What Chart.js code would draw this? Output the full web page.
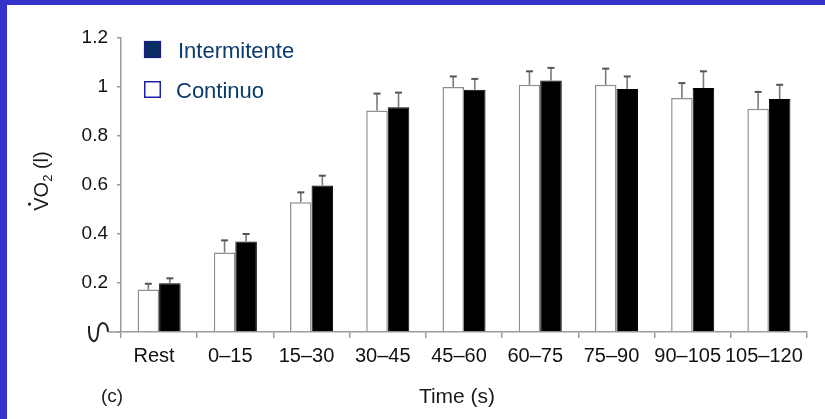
<!DOCTYPE html>
<html>
<head>
<meta charset="utf-8">
<script src="https://cdn.jsdelivr.net/npm/chart.js@4.4.1/dist/chart.umd.min.js"></script>
<style>
    html, body { margin: 0; padding: 0; background: #fff; }
    #wrap { position: relative; width: 825px; height: 419px; overflow: hidden; background: #fff; }
    #wrap canvas { position: absolute; left: 0; top: 0; }
    .edge { position: absolute; background: #3333cc; }
</style>
</head>
<body>
<div id="wrap">
    <canvas id="chart-vo2" width="825" height="419"></canvas>
    <div class="edge" style="left:0;top:0;width:7px;height:419px;"></div>
    <div class="edge" style="left:0;top:0;width:825px;height:5px;"></div>
</div>
<script>
// Time windows (s)
const categories = ['Rest', '0–15', '15–30', '30–45', '45–60', '60–75', '75–90', '90–105', '105–120'];

// VO2 (l)
const continuo = [0.173, 0.324, 0.53, 0.904, 1.0, 1.009, 1.009, 0.955, 0.911];
const continuoErr = [0.024, 0.05, 0.04, 0.069, 0.043, 0.055, 0.066, 0.061, 0.069];
const intermitente = [0.199, 0.369, 0.598, 0.917, 0.989, 1.027, 0.992, 0.996, 0.951];
const intermitenteErr = [0.02, 0.031, 0.04, 0.06, 0.044, 0.051, 0.051, 0.068, 0.058];

const yTicks = [0, 0.2, 0.4, 0.6, 0.8, 1, 1.2];

const FONT = "'Liberation Sans', Arial, sans-serif";
const AXIS_GRAY = '#9a9a9a';

// upward error bars on top of each bar
const errorBars = {
    id: 'errorBars',
    afterDatasetsDraw(chart) {
        const ctx = chart.ctx;
        const y = chart.scales.y;
        chart.data.datasets.forEach((ds, i) => {
            const meta = chart.getDatasetMeta(i);
            meta.data.forEach((bar, idx) => {
                const top = y.getPixelForValue(ds.data[idx] + ds.errors[idx]);
                ctx.save();
                ctx.strokeStyle = '#7a7a7a';
                ctx.lineWidth = 1.6;
                ctx.beginPath();
                ctx.moveTo(bar.x, bar.y);
                ctx.lineTo(bar.x, top);
                ctx.stroke();
                ctx.strokeStyle = '#555';
                ctx.lineWidth = 2;
                ctx.beginPath();
                ctx.moveTo(bar.x - 3.5, top);
                ctx.lineTo(bar.x + 3.5, top);
                ctx.stroke();
                ctx.restore();
            });
        });
    }
};

// legend, axis titles, axis break
const decorations = {
    id: 'decorations',
    afterDraw(chart) {
        const ctx = chart.ctx;
        const area = chart.chartArea;
        ctx.save();

        // legend
        ctx.fillStyle = '#0a2f63';
        ctx.fillRect(144, 41, 17, 17);
        ctx.strokeStyle = '#1a1a8a';
        ctx.lineWidth = 1.2;
        ctx.strokeRect(144.5, 41.5, 16, 16);
        ctx.fillStyle = '#fff';
        ctx.fillRect(144, 81, 17, 17);
        ctx.strokeStyle = '#1e1ea8';
        ctx.lineWidth = 1.5;
        ctx.strokeRect(144.75, 81.75, 15.5, 15.5);

        ctx.fillStyle = '#0b3a6b';
        ctx.font = '22px ' + FONT;
        ctx.textBaseline = 'alphabetic';
        ctx.textAlign = 'left';
        ctx.fillText('Intermitente', 178, 58);
        ctx.fillText('Continuo', 176, 98);

        // x title and panel tag
        ctx.fillStyle = '#1a1a1a';
        ctx.font = '21px ' + FONT;
        ctx.textAlign = 'center';
        ctx.fillText('Time (s)', 457, 403);
        ctx.font = '19px ' + FONT;
        ctx.fillText('(c)', 112, 402);

        // y title: V-dot O subscript 2 (l)
        ctx.translate(48, 181);
        ctx.rotate(-Math.PI / 2);
        ctx.textAlign = 'left';
        const big = '20px ' + FONT;
        const small = '13px ' + FONT;
        ctx.font = big;
        const wV = ctx.measureText('V').width;
        const wO = ctx.measureText('O').width;
        const wL = ctx.measureText(' (l)').width;
        ctx.font = small;
        const w2 = ctx.measureText('2').width;
        let x = -(wV + wO + w2 + wL) / 2;
        ctx.font = big;
        ctx.fillText('V', x, 0);
        ctx.beginPath();
        ctx.arc(x + wV / 2, -18.5, 1.6, 0, Math.PI * 2);
        ctx.fill();
        x += wV;
        ctx.fillText('O', x, 0);
        x += wO;
        ctx.font = small;
        ctx.fillText('2', x, 4);
        x += w2;
        ctx.font = big;
        ctx.fillText(' (l)', x, 0);
        ctx.setTransform(1, 0, 0, 1, 0, 0);

        // axis break at zero
        const y0 = area.bottom;
        ctx.strokeStyle = '#222';
        ctx.lineWidth = 2;
        ctx.beginPath();
        ctx.moveTo(89, y0 - 6);
        ctx.bezierCurveTo(88, y0 + 13, 98, y0 + 13, 98, y0);
        ctx.bezierCurveTo(98, y0 - 12, 108, y0 - 12, 108, y0);
        ctx.stroke();
        ctx.strokeStyle = AXIS_GRAY;
        ctx.lineWidth = 1.5;
        ctx.beginPath();
        ctx.moveTo(108, y0);
        ctx.lineTo(area.left, y0);
        ctx.stroke();

        ctx.restore();
    }
};

Chart.defaults.font.family = FONT;
Chart.defaults.color = '#111';

new Chart(document.getElementById('chart-vo2'), {
    type: 'bar',
    data: {
        labels: categories,
        datasets: [
            {
                label: 'Continuo',
                data: continuo,
                errors: continuoErr,
                backgroundColor: '#ffffff',
                borderColor: '#8f8f8f',
                borderWidth: 1.5,
                borderSkipped: 'start'
            },
            {
                label: 'Intermitente',
                data: intermitente,
                errors: intermitenteErr,
                backgroundColor: '#000000',
                borderColor: '#000000',
                borderWidth: 1,
                borderSkipped: 'start'
            }
        ]
    },
    options: {
        responsive: false,
        animation: false,
        devicePixelRatio: 1,
        categoryPercentage: 0.565,
        barPercentage: 1.0,
        layout: { padding: { left: 0, top: 38, right: 18, bottom: 0 } },
        plugins: {
            legend: { display: false },
            tooltip: { enabled: false }
        },
        scales: {
            x: {
                grid: {
                    display: true,
                    drawOnChartArea: false,
                    offset: true,
                    color: AXIS_GRAY,
                    tickLength: 6,
                    lineWidth: 1.5
                },
                border: { color: AXIS_GRAY, width: 1.5 },
                ticks: {
                    font: { size: 20 },
                    color: '#111',
                    padding: 6,
                    labelOffset: -5,
                    maxRotation: 0,
                    autoSkip: false
                },
                afterFit(scale) { scale.height = 87; }
            },
            y: {
                min: 0,
                max: 1.2,
                afterBuildTicks(scale) {
                    scale.ticks = yTicks.map(v => ({ value: v }));
                },
                grid: {
                    display: true,
                    drawOnChartArea: false,
                    color: AXIS_GRAY,
                    tickLength: 4,
                    lineWidth: 1.5
                },
                border: { color: AXIS_GRAY, width: 1.5 },
                ticks: {
                    font: { size: 19 },
                    color: '#111',
                    padding: 9,
                    callback: v => v === 0 ? '' : String(Math.round(v * 10) / 10)
                },
                afterFit(scale) { scale.width = 121; }
            }
        }
    },
    plugins: [errorBars, decorations]
});
</script>
</body>
</html>
